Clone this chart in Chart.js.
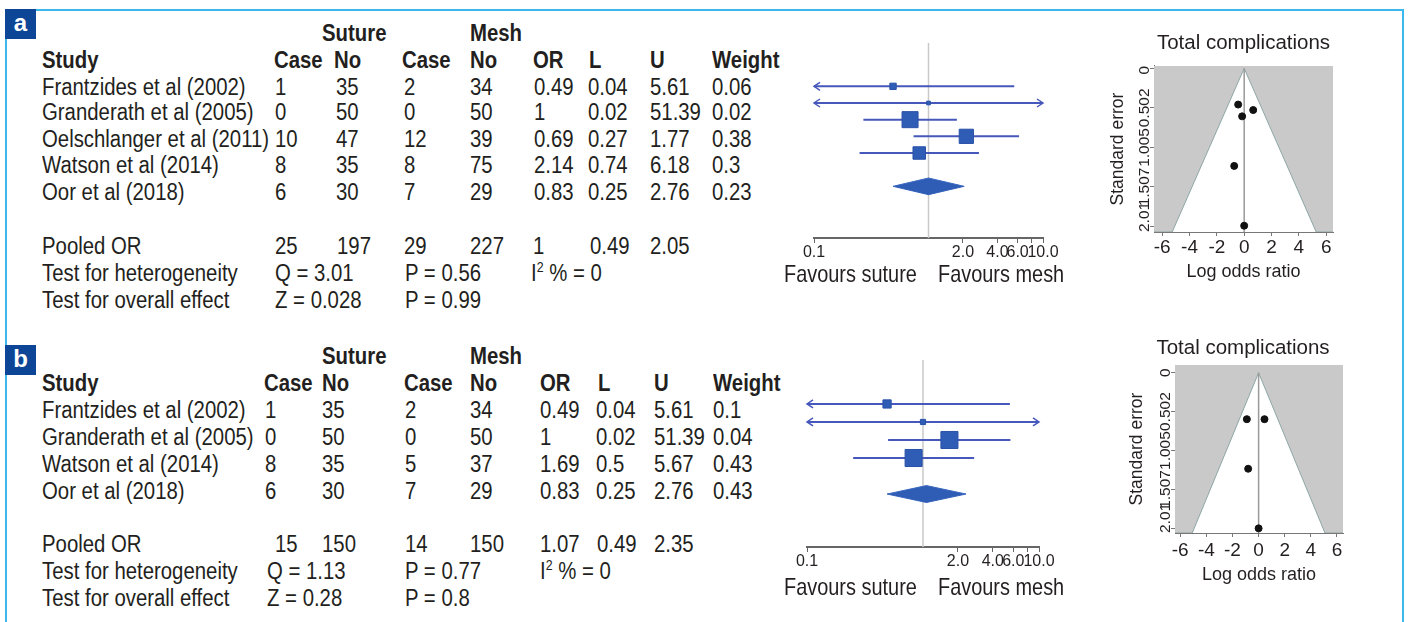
<!DOCTYPE html>
<html>
<head>
<meta charset="utf-8">
<script src="https://cdn.jsdelivr.net/npm/chart.js@4.4.1/dist/chart.umd.min.js"></script>
<style>
  body { margin: 0; width: 1409px; height: 622px; background: #fff; position: relative; overflow: hidden; color: #231f20; }
  .t { position: absolute; font-family: 'Liberation Sans', Arial, sans-serif; font-size: 23px; line-height: 26px; white-space: nowrap; transform: scaleX(0.885); transform-origin: 0 50%; }
  .b { font-weight: bold; }
  .fav { font-size: 24px; transform: scaleX(0.83); }
  .t sup { font-size: 14px; line-height: 0; vertical-align: 9px; }
  .box { position: absolute; left: 5px; width: 31px; height: 30px; background: #0d4696; color: #fff; font: bold 24px 'Liberation Sans', Arial, sans-serif; text-align: center; line-height: 27px; }
  .ln { position: absolute; background: #3cb9ec; }
  canvas { position: absolute; }
</style>
</head>
<body>
<div class="ln" style="left:35px;top:9px;width:1369px;height:2px"></div>
<div class="ln" style="left:1402px;top:9px;width:2px;height:613px"></div>
<div class="ln" style="left:5px;top:38px;width:2px;height:307px"></div>
<div class="ln" style="left:5px;top:375px;width:2px;height:247px"></div>
<div class="box" style="top:9px">a</div>
<div class="box" style="top:345px">b</div>

<canvas id="forestA" width="290" height="240" style="left:790px;top:30px"></canvas>
<canvas id="forestB" width="290" height="240" style="left:790px;top:345px"></canvas>
<canvas id="funnelA" width="297" height="265" style="left:1095px;top:25px"></canvas>
<canvas id="funnelB" width="256" height="265" style="left:1115px;top:325px"></canvas>

<script>
// ---- panel a data ----
const studiesA = ['Frantzides et al (2002)', 'Granderath et al (2005)', 'Oelschlanger et al (2011)', 'Watson et al (2014)', 'Oor et al (2018)'];
const sutureCaseA = [1, 0, 10, 8, 6];
const sutureNoA = [35, 50, 47, 35, 30];
const meshCaseA = [2, 0, 12, 8, 7];
const meshNoA = [34, 50, 39, 75, 29];
const orA = [0.49, 1, 0.69, 2.14, 0.83];
const lowA = [0.04, 0.02, 0.27, 0.74, 0.25];
const upA = [5.61, 51.39, 1.77, 6.18, 2.76];
const weightA = [0.06, 0.02, 0.38, 0.3, 0.23];
const pooledA = [25, 197, 29, 227, 1, 0.49, 2.05];
const hetA = ['Q = 3.01', 'P = 0.56', '0'];
const overallA = ['Z = 0.028', 'P = 0.99'];
const funnelXA = [-0.44, 0.66, -0.15, -0.73, 0];
const funnelYA = [0.46, 0.53, 0.61, 1.24, 2.0];
const funnelEdgeA = 5.27;

// ---- panel b data ----
const studiesB = ['Frantzides et al (2002)', 'Granderath et al (2005)', 'Watson et al (2014)', 'Oor et al (2018)'];
const sutureCaseB = [1, 0, 8, 6];
const sutureNoB = [35, 50, 35, 30];
const meshCaseB = [2, 0, 5, 7];
const meshNoB = [34, 50, 37, 29];
const orB = [0.49, 1, 1.69, 0.83];
const lowB = [0.04, 0.02, 0.5, 0.25];
const upB = [5.61, 51.39, 5.67, 2.76];
const weightB = [0.1, 0.04, 0.43, 0.43];
const pooledB = [15, 150, 14, 150, 1.07, 0.49, 2.35];
const hetB = ['Q = 1.13', 'P = 0.77', '0'];
const overallB = ['Z = 0.28', 'P = 0.8'];
const funnelXB = [-0.9, 0.45, -0.8, 0];
const funnelYB = [0.6, 0.6, 1.24, 2.01];
const funnelEdgeB = 5.08;

// ---- axis ticks ----
const orTicks = [0.1, 2, 4, 6, 8, 10];
const orTickLabels = ['0.1', '2.0', '4.0', '6.0', '', '10.0'];
const lorTicks = [-6, -4, -2, 0, 2, 4, 6];
const lorTickLabels = ['-6', '-4', '-2', '0', '2', '4', '6'];
const seTicks = [0, 0.502, 1.005, 1.507, 2.01];
const seTickLabels = ['0', '0.502', '1.005', '1.507', '2.01'];

const FONT = "'Liberation Sans', Arial, sans-serif";
Chart.defaults.font.family = FONT;
Chart.defaults.color = '#231f20';

function put(html, x, y, cls) {
  const d = document.createElement('div');
  d.className = 't' + (cls ? ' ' + cls : '');
  d.innerHTML = html;
  d.style.left = x + 'px';
  d.style.top = (y - 13) + 'px';
  document.body.appendChild(d);
}

function table(p) {
  put('Suture', p.suture, p.yTop, 'b');
  put('Mesh', p.mesh, p.yTop, 'b');
  const hdr = ['Study', 'Case', 'No', 'Case', 'No', 'OR', 'L', 'U', 'Weight'];
  hdr.forEach((h, i) => put(h, p.hx[i], p.yHdr, 'b'));
  p.studies.forEach((s, r) => {
    const vals = [s, p.sc[r], p.sn[r], p.mc[r], p.mn[r], p.or[r], p.lo[r], p.up[r], p.wt[r]];
    vals.forEach((v, i) => put(String(v), p.cx[i], p.rows[r]));
  });
  put('Pooled OR', p.cx[0], p.yPool);
  p.pooled.forEach((v, i) => put(String(v), p.px[i], p.yPool));
  put('Test for heterogeneity', p.cx[0], p.yHet);
  put(p.het[0], p.hetx[0], p.yHet);
  put(p.het[1], p.hetx[1], p.yHet);
  put('I<sup>2</sup> % = ' + p.het[2], p.hetx[2], p.yHet);
  put('Test for overall effect', p.cx[0], p.yOv);
  put(p.overall[0], p.hetx[0], p.yOv);
  put(p.overall[1], p.hetx[1], p.yOv);
  put('Favours suture', 784, p.yFav, 'fav');
  put('Favours mesh', 938, p.yFav, 'fav');
}

table({
  studies: studiesA, sc: sutureCaseA, sn: sutureNoA, mc: meshCaseA, mn: meshNoA,
  or: orA, lo: lowA, up: upA, wt: weightA, pooled: pooledA, het: hetA, overall: overallA,
  suture: 322, mesh: 470,
  hx: [42, 274, 334, 402, 470, 533, 589, 650, 712],
  cx: [42, 275, 336, 404, 470, 534, 588, 650, 712],
  px: [275, 337, 404, 470, 533, 590, 650],
  hetx: [275, 405, 531],
  yTop: 33, yHdr: 60, rows: [87, 112, 139, 165, 192], yPool: 246, yHet: 273, yOv: 300, yFav: 274
});
table({
  studies: studiesB, sc: sutureCaseB, sn: sutureNoB, mc: meshCaseB, mn: meshNoB,
  or: orB, lo: lowB, up: upB, wt: weightB, pooled: pooledB, het: hetB, overall: overallB,
  suture: 322, mesh: 470,
  hx: [42, 264, 322, 404, 470, 540, 598, 654, 713],
  cx: [42, 265, 322, 405, 470, 540, 596, 654, 713],
  px: [275, 322, 405, 470, 540, 597, 654],
  hetx: [267, 405, 540],
  yTop: 356, yHdr: 383, rows: [410, 437, 464, 491], yPool: 544, yHet: 571, yOv: 598, yFav: 587
});

// arrowheads for confidence intervals running off the axis
const ciArrows = {
  id: 'ciArrows',
  afterDatasetsDraw(chart, args, o) {
    const x = chart.scales.x, y = chart.scales.y, ctx = chart.ctx;
    ctx.save();
    ctx.strokeStyle = '#4658bb';
    ctx.lineWidth = 1.5;
    o.lo.forEach((l, i) => {
      const py = y.getPixelForValue(i + 1);
      if (l < x.min) {
        const px = x.getPixelForValue(x.min);
        ctx.beginPath(); ctx.moveTo(px + 6, py - 4); ctx.lineTo(px, py); ctx.lineTo(px + 6, py + 4); ctx.stroke();
      }
      if (o.up[i] > x.max) {
        const px = x.getPixelForValue(x.max);
        ctx.beginPath(); ctx.moveTo(px - 6, py - 4); ctx.lineTo(px, py); ctx.lineTo(px - 6, py + 4); ctx.stroke();
      }
    });
    ctx.restore();
  }
};

function forest(id, or, lo, up, wt, pooled, yMin, yMax, dRow, dHalf, pad, xh) {
  const AXMIN = 0.1, AXMAX = 10;
  const ds = [];
  ds.push({
    data: or.map((v, i) => ({ x: v, y: i + 1 })),
    pointStyle: 'rect',
    pointRadius: wt.map(w => 26 * Math.sqrt(w) / Math.SQRT2),
    backgroundColor: '#2f5cb4', borderColor: '#2a52a8', borderWidth: 1, order: 0
  });
  or.forEach((v, i) => ds.push({
    data: [{ x: Math.max(lo[i], AXMIN), y: i + 1 }, { x: Math.min(up[i], AXMAX), y: i + 1 }],
    showLine: true, borderColor: '#4658bb', borderWidth: 2, pointRadius: 0, order: 1
  }));
  const [pOr, pL, pU] = pooled.slice(4);
  ds.push({
    data: [{ x: pL, y: dRow }, { x: pOr, y: dRow - dHalf }, { x: pU, y: dRow }],
    showLine: true, fill: '+1', backgroundColor: '#2f5cb4', borderColor: '#3a68c0', borderWidth: 1, pointRadius: 0, order: 1
  });
  ds.push({
    data: [{ x: pL, y: dRow }, { x: pOr, y: dRow + dHalf }, { x: pU, y: dRow }],
    showLine: true, fill: false, borderColor: '#3a68c0', borderWidth: 1, pointRadius: 0, order: 1
  });
  ds.push({
    data: [{ x: 1, y: yMin }, { x: 1, y: yMax }],
    showLine: true, borderColor: '#c9c9c9', borderWidth: 1.5, pointRadius: 0, order: 3
  });

  new Chart(document.getElementById(id), {
    type: 'scatter',
    data: { datasets: ds },
    plugins: [ciArrows],
    options: {
      responsive: false, animation: false,
      layout: { padding: pad },
      plugins: { legend: { display: false }, tooltip: { enabled: false }, ciArrows: { lo, up } },
      scales: {
        x: {
          type: 'logarithmic', min: AXMIN, max: AXMAX,
          afterBuildTicks: a => { a.ticks = orTicks.map(v => ({ value: v })); },
          afterFit: s => { s.height = xh; },
          ticks: { autoSkip: false, maxRotation: 0, padding: 0, font: { size: 16 }, color: '#231f20', callback: (v, i) => orTickLabels[i] },
          grid: { drawOnChartArea: false, tickLength: 5, color: '#666' },
          border: { color: '#666', width: 2 }
        },
        y: { type: 'linear', reverse: true, min: yMin, max: yMax, display: false }
      }
    }
  });
}

forest('forestA', orA, lowA, upA, weightA, pooledA, -1.6, 10.1, 7, 0.5, { left: 24, right: 37, top: 13, bottom: 0 }, 32);
forest('forestB', orB, lowB, upB, weightB, pooledB, -1.44, 8.94, 6, 0.47, { left: 17, right: 41, top: 15, bottom: 0 }, 38);

// rotated standard-error tick labels
const rotTicks = {
  id: 'rotTicks',
  afterDraw(chart) {
    const s = chart.scales.y, ctx = chart.ctx;
    ctx.save();
    ctx.font = '15.5px ' + FONT;
    ctx.fillStyle = '#231f20';
    ctx.textAlign = 'center';
    ctx.textBaseline = 'alphabetic';
    seTickLabels.forEach((lab, i) => {
      const w = ctx.measureText(lab).width;
      let py = s.getPixelForValue(seTicks[i]);
      py = Math.min(Math.max(py, s.top + w / 2), s.bottom - w / 2);
      ctx.save();
      ctx.translate(s.right - 5, py);
      ctx.rotate(-Math.PI / 2);
      ctx.fillText(lab, 0, 0);
      ctx.restore();
    });
    ctx.restore();
  }
};

function funnel(id, xs, ys, edge, xMin, xMax, yMin, yMax, lay) {
  new Chart(document.getElementById(id), {
    type: 'scatter',
    data: {
      datasets: [
        { data: xs.map((x, i) => ({ x, y: ys[i] })), pointRadius: 3.5, pointBackgroundColor: '#111', pointBorderColor: '#111', order: 0 },
        { data: [{ x: 0, y: 0 }, { x: 0, y: yMax }], showLine: true, borderColor: '#9a9a9a', borderWidth: 1.5, pointRadius: 0, order: 1 },
        {
          data: [{ x: xMin, y: yMax }, { x: -edge, y: yMax }, { x: 0, y: 0 }, { x: edge, y: yMax }, { x: xMax, y: yMax }],
          showLine: true, fill: 'end', backgroundColor: '#c9c9c9', borderColor: '#8ea6a6', borderWidth: 1, pointRadius: 0, order: 2
        }
      ]
    },
    plugins: [rotTicks],
    options: {
      responsive: false, animation: false,
      layout: { padding: lay.pad },
      plugins: {
        legend: { display: false }, tooltip: { enabled: false },
        title: { display: true, fullSize: lay.full, text: 'Total complications', color: '#231f20', font: { size: 20.5, weight: 'normal' }, padding: { top: 0, bottom: lay.titleGap } }
      },
      scales: {
        x: {
          type: 'linear', min: xMin, max: xMax,
          afterBuildTicks: a => { a.ticks = lorTicks.map(v => ({ value: v })); },
          afterFit: s => { s.height = lay.xh; },
          ticks: { autoSkip: false, maxRotation: 0, padding: lay.xtp, font: { size: 19 }, color: '#231f20', callback: (v, i) => lorTickLabels[i] },
          grid: { drawOnChartArea: false, tickLength: 4, color: '#777' },
          border: { color: '#777' },
          title: { display: true, text: 'Log odds ratio', color: '#231f20', font: { size: 18 }, padding: { top: 0, bottom: lay.xtb } }
        },
        y: {
          type: 'linear', reverse: true, min: yMin, max: yMax, z: 1,
          afterBuildTicks: a => { a.ticks = seTicks.map(v => ({ value: v })); },
          afterFit: s => { s.width = lay.yw; },
          ticks: { display: false },
          grid: { color: 'rgba(255,255,255,0.55)', tickColor: '#777', tickLength: 4 },
          border: { color: '#777' },
          title: { display: true, text: 'Standard error', color: '#231f20', font: { size: 17.5 }, padding: { top: lay.ytp, bottom: 0 } }
        }
      }
    }
  });
}

funnel('funnelA', funnelXA, funnelYA, funnelEdgeA, -6.6, 6.5, -0.03, 2.08,
  { full: false, pad: { top: 6.3, right: 59, bottom: 0, left: 0 }, titleGap: 10.1, xh: 58, xtp: 0, xtb: 7.2, yw: 59, ytp: 12.5 });
funnel('funnelB', funnelXB, funnelYB, funnelEdgeB, -6.4, 6.46, -0.1, 2.07,
  { full: true, pad: { top: 10.7, right: 28, bottom: 0, left: 28 }, titleGap: 4.7, xh: 57, xtp: 2, xtb: 4.2, yw: 32, ytp: -16.5 });
</script>
</body>
</html>
